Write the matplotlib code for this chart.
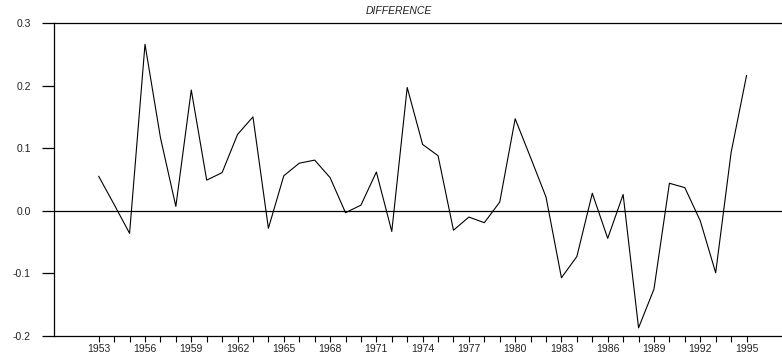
import numpy as np
import matplotlib.pyplot as plt
from matplotlib.ticker import FixedLocator

plt.rcParams['font.family'] = ['Liberation Sans', 'DejaVu Sans']

years = np.arange(1953, 1996)
diff = [0.055, 0.010, -0.036, 0.266, 0.117, 0.007, 0.193, 0.049, 0.061, 0.122,
        0.150, -0.028, 0.056, 0.076, 0.081, 0.053, -0.003, 0.009, 0.062, -0.033,
        0.197, 0.106, 0.088, -0.031, -0.010, -0.019, 0.014, 0.147, 0.085, 0.022,
        -0.107, -0.073, 0.028, -0.044, 0.026, -0.187, -0.125, 0.044, 0.037, -0.016,
        -0.099, 0.093, 0.216]
year_labels = np.arange(1953, 1996, 3)
yticks = [-0.2, -0.1, 0.0, 0.1, 0.2, 0.3]


def plot():
    fig = plt.figure(figsize=(7.82, 3.58), dpi=100)
    ax = fig.add_axes([54 / 782, 22 / 358, 1 - 54 / 782, (336 - 23) / 358])

    ax.plot(years, diff, color='black', lw=0.8)
    ax.axhline(0, color='black', lw=0.9)

    ax.set_xlim(1950.1, 1997.3)
    ax.set_ylim(-0.2, 0.3)

    ax.spines['right'].set_visible(False)
    for s in ['left', 'top', 'bottom']:
        ax.spines[s].set_linewidth(0.9)

    # ticks every year, labels every 3 years
    ax.xaxis.set_major_locator(FixedLocator(year_labels))
    ax.xaxis.set_minor_locator(FixedLocator(years))
    ax.set_xticklabels([str(y) for y in year_labels])
    ax.tick_params(axis='x', which='both', direction='out', length=4, width=0.8,
                   labelsize=7.5, pad=1.5, labelcolor='#222222')

    ax.set_yticks(yticks)
    ax.set_yticklabels(['%.1f' % v for v in yticks])
    ax.tick_params(axis='y', direction='out', length=8.6, width=0.9,
                   labelsize=7.5, pad=8, labelcolor='#222222')

    fig.text(399 / 782, 1 - 11 / 358, 'DIFFERENCE', ha='center', va='center',
             fontsize=7.5, style='italic', color='#222222')

    plt.savefig('out.png')


if __name__ == '__main__':
    plot()
